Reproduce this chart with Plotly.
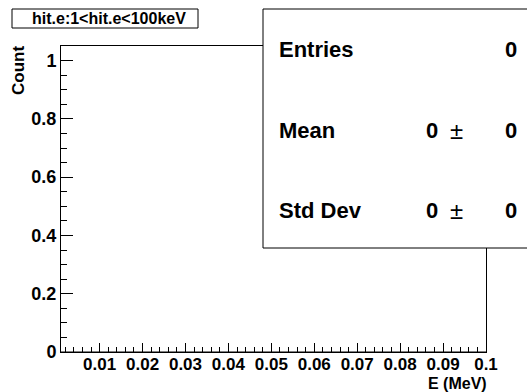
import numpy as np
import plotly.graph_objects as go

# Histogram definition: energy deposits between 1 keV and 100 keV
bin_edges = list(np.linspace(0.001, 0.1, 101))
bin_counts = [0] * 100

# Statistics shown in the stats box
entries = 0
mean_val, mean_err = 0, 0
std_val, std_err = 0, 0

x_tick_vals = [0.01, 0.02, 0.03, 0.04, 0.05, 0.06, 0.07, 0.08, 0.09, 0.1]
x_tick_text = ["0.01", "0.02", "0.03", "0.04", "0.05", "0.06", "0.07", "0.08", "0.09", "0.1"]
y_tick_vals = [0, 0.2, 0.4, 0.6, 0.8, 1.0]
y_tick_text = ["0", "0.2", "0.4", "0.6", "0.8", "1"]

title_text = "hit.e:1<hit.e<100keV"
x_title = "E (MeV)"
y_title = "Count"

FONT = "Liberation Sans, Arial, Helvetica, sans-serif"

# step outline of the histogram
xs, ys = [], []
for i, c in enumerate(bin_counts):
    xs += [bin_edges[i], bin_edges[i + 1]]
    ys += [c, c]

fig = go.Figure()
fig.add_trace(go.Scatter(x=xs, y=ys, mode="lines",
                         line=dict(color="black", width=1), hoverinfo="skip",
                         showlegend=False))

W, H = 527, 392
ml, mr, mt, mb = 61, 41, 46, 40
pw, ph = W - ml - mr, H - mt - mb

def px(x):
    return (x - ml) / pw

def py(y):
    return (H - mb - y) / ph

fig.update_layout(
    width=W, height=H,
    margin=dict(l=ml, r=mr, t=mt, b=mb),
    paper_bgcolor="white", plot_bgcolor="white",
    showlegend=False,
    font=dict(family=FONT, color="black"),
    xaxis=dict(
        range=[bin_edges[0], bin_edges[-1]],
        tickvals=x_tick_vals, ticktext=x_tick_text,
        ticks="inside", ticklen=9, tickwidth=1, tickcolor="black",
        minor=dict(dtick=0.002, tick0=0, ticks="inside", ticklen=5,
                   tickwidth=1, tickcolor="black", showgrid=False),
        showline=True, linecolor="black", linewidth=1, mirror=True,
        showgrid=False, zeroline=False,
        ticklabelstandoff=-3,
        tickfont=dict(family=FONT, size=17, weight="bold", color="black"),
    ),
    yaxis=dict(
        range=[0, 1.05],
        tickvals=y_tick_vals, ticktext=y_tick_text,
        ticks="inside", ticklen=12, tickwidth=1, tickcolor="black",
        minor=dict(dtick=0.05, tick0=0, ticks="inside", ticklen=6,
                   tickwidth=1, tickcolor="black", showgrid=False),
        showline=True, linecolor="black", linewidth=1, mirror=True,
        showgrid=False, zeroline=False,
        tickfont=dict(family=FONT, size=18, weight="bold", color="black"),
    ),
)

shapes = []
annotations = []

# title box
shapes.append(dict(type="rect", xref="paper", yref="paper",
                   x0=px(12), x1=px(198), y0=py(28), y1=py(9),
                   line=dict(color="black", width=1), fillcolor="white"))
annotations.append(dict(xref="paper", yref="paper", x=px(109), y=py(18.5),
                        text=title_text, showarrow=False,
                        xanchor="center", yanchor="middle",
                        font=dict(family=FONT, size=16, weight="bold")))

# axis titles
annotations.append(dict(xref="paper", yref="paper", x=px(488), y=py(383),
                        text=x_title, showarrow=False, borderpad=0,
                        xanchor="right", yanchor="middle",
                        font=dict(family=FONT, size=16, weight="bold")))
annotations.append(dict(xref="paper", yref="paper", x=px(18), y=py(71),
                        text=y_title, showarrow=False, textangle=-90,
                        xanchor="center", yanchor="middle",
                        font=dict(family=FONT, size=17, weight="bold")))

# stats box
shapes.append(dict(type="rect", xref="paper", yref="paper",
                   x0=px(263), x1=px(540), y0=py(248), y1=py(9),
                   line=dict(color="black", width=1), fillcolor="white"))

stat_font = dict(family=FONT, size=22, weight="bold")
pm_font = dict(family=FONT, size=24)
rows = [("Entries", None, entries, 50),
        ("Mean", mean_val, mean_err, 130),
        ("Std Dev", std_val, std_err, 210)]
for label, val, err, yc in rows:
    annotations.append(dict(xref="paper", yref="paper", x=px(277), y=py(yc),
                            text=label, showarrow=False,
                            xanchor="left", yanchor="middle", font=stat_font))
    annotations.append(dict(xref="paper", yref="paper", x=px(519), y=py(yc),
                            text=f"{err:g}", showarrow=False,
                            xanchor="right", yanchor="middle", font=stat_font))
    if val is not None:
        annotations.append(dict(xref="paper", yref="paper", x=px(440), y=py(yc),
                                text=f"{val:g}", showarrow=False,
                                xanchor="right", yanchor="middle", font=stat_font))
        annotations.append(dict(xref="paper", yref="paper", x=px(456), y=py(yc),
                                text="±", showarrow=False,
                                xanchor="center", yanchor="middle", font=pm_font))

fig.update_layout(shapes=shapes, annotations=annotations)
fig.write_html("out.html")
